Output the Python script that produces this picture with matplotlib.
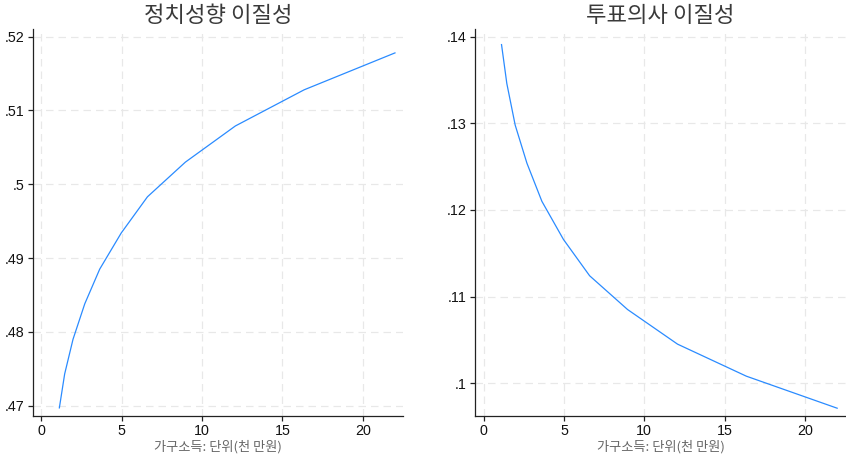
import matplotlib
matplotlib.use("Agg")
import matplotlib.pyplot as plt

plt.rcParams["font.family"] = ["Liberation Sans", "Noto Sans CJK KR"]

# 가구소득 (천 만원)
income = [1.12, 1.45, 1.97, 2.70, 3.63, 4.97, 6.60, 8.96, 12.07, 16.35, 22.0]

# 정치성향 이질성
political = [0.4697, 0.4743, 0.4790, 0.4838, 0.4885, 0.4934,
             0.4983, 0.5030, 0.5079, 0.5128, 0.5178]

# 투표의사 이질성
voting = [0.1391, 0.1346, 0.1298, 0.1254, 0.1210, 0.1166,
          0.1124, 0.1085, 0.1045, 0.1008, 0.0971]

x_ticks = [0, 5, 10, 15, 20]
left_yticks = [0.47, 0.48, 0.49, 0.50, 0.51, 0.52]
left_ylabels = [".47", ".48", ".49", ".5", ".51", ".52"]
right_yticks = [0.10, 0.11, 0.12, 0.13, 0.14]
right_ylabels = [".1", ".11", ".12", ".13", ".14"]

titles = ["정치성향 이질성", "투표의사 이질성"]
xlabel = "가구소득: 단위(천 만원)"

LINE = "#2a8bff"
GRID = "#e8e8e8"

fig = plt.figure(figsize=(8.46, 4.58), dpi=100)
ax1 = fig.add_axes([33 / 846, 42 / 458, 370 / 846, 387 / 458])
ax2 = fig.add_axes([475 / 846, 42 / 458, 371 / 846, 387 / 458])


def style_axis(ax, y, yticks, ylabels, ylim, xlim, title):
    ax.plot(income, y, color=LINE, linewidth=0.9)
    ax.set_xlim(*xlim)
    ax.set_ylim(*ylim)
    ax.set_xticks(x_ticks)
    ax.set_xticklabels([str(t) for t in x_ticks])
    ax.set_yticks(yticks)
    ax.set_yticklabels(ylabels)
    ax.grid(True, color=GRID, linestyle=(0, (6, 4)), linewidth=0.9)
    ax.set_axisbelow(True)
    for side in ["top", "right"]:
        ax.spines[side].set_visible(False)
    for side in ["left", "bottom"]:
        ax.spines[side].set_color("#222222")
        ax.spines[side].set_linewidth(0.9)
    ax.tick_params(direction="out", length=3.5, width=0.9, color="#222222",
                   labelsize=10.3, labelcolor="#111111", pad=2.5)
    ax.set_title(title, fontsize=16, color="#3a3a3a", pad=5,
                 family=["Noto Sans CJK KR"])
    ax.set_xlabel(xlabel, fontsize=9.5, color="#666666", labelpad=1,
                  family=["Noto Sans CJK KR"])


style_axis(ax1, political, left_yticks, left_ylabels,
           (0.4686, 0.52104), (-0.52, 22.5), titles[0])
style_axis(ax2, voting, right_yticks, right_ylabels,
           (0.0962, 0.1409), (-0.53, 22.55), titles[1])

fig.savefig("out.png", dpi=100, facecolor="white")
